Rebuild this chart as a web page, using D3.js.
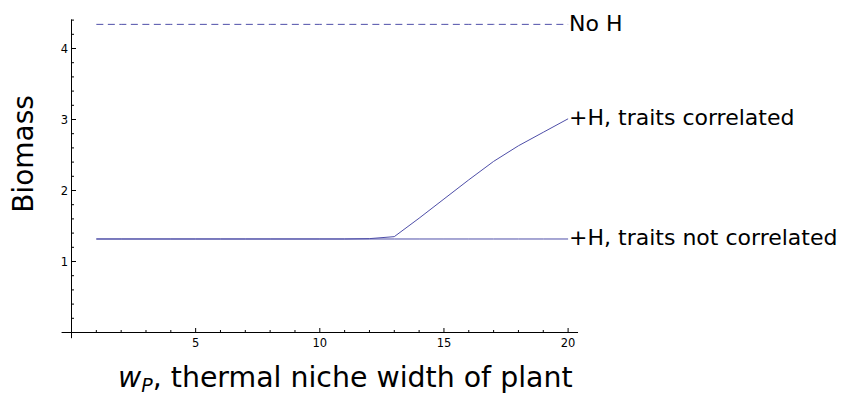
<!DOCTYPE html>
<html>
<head>
<meta charset="utf-8">
<script src="https://cdn.jsdelivr.net/npm/d3@7"></script>
<style>
  body { margin: 0; background: #fff; }
  text { font-family: "DejaVu Sans", sans-serif; fill: #000; }
</style>
</head>
<body>
<div id="chart"></div>
<script>
// data
const widths = d3.range(1, 21);
const noH = widths.map(() => 4.34);
const notCorrelated = widths.map(() => 1.317);
const correlated = [1.317, 1.317, 1.317, 1.317, 1.317, 1.317, 1.317, 1.317, 1.317, 1.317,
                    1.317, 1.322, 1.35, 1.61, 1.88, 2.15, 2.41, 2.63, 2.82, 3.01];
const seriesLabels = ['No H', '+H, traits correlated', '+H, traits not correlated'];
const xTicks = [5, 10, 15, 20];
const yTicks = [1, 2, 3, 4];

const W = 845, H = 398;
const svg = d3.select('#chart').append('svg')
    .attr('width', W)
    .attr('height', H);

const x = d3.scaleLinear().domain([0, 20]).range([71.5, 568.1]);
const y = d3.scaleLinear().domain([0, 4]).range([332.5, 48.5]);
const lineColor = '#4e4ea8';

// axes
const axes = svg.append('g');
axes.append('line')
    .attr('x1', x(-0.4)).attr('x2', x(20.4))
    .attr('y1', y(0)).attr('y2', y(0))
    .attr('stroke', '#000');
axes.append('line')
    .attr('x1', x(0)).attr('x2', x(0))
    .attr('y1', y(4.41)).attr('y2', y(-0.08))
    .attr('stroke', '#000');

// x ticks (inside, upward)
const xMinor = d3.range(1, 21).filter(v => !xTicks.includes(v));
axes.selectAll('.xminor').data(xMinor).enter().append('line')
    .attr('x1', d => x(d)).attr('x2', d => x(d))
    .attr('y1', y(0)).attr('y2', y(0) - 2.5)
    .attr('stroke', '#000');
axes.selectAll('.xmajor').data(xTicks).enter().append('line')
    .attr('x1', d => x(d)).attr('x2', d => x(d))
    .attr('y1', y(0)).attr('y2', y(0) - 4.5)
    .attr('stroke', '#000');
axes.selectAll('.xlab').data(xTicks).enter().append('text')
    .attr('x', d => x(d)).attr('y', y(0) + 14)
    .attr('text-anchor', 'middle')
    .style('font-size', '11.5px')
    .text(d => d);

// y ticks (inside, rightward)
const yMinor = d3.range(1, 23).map(i => i * 0.2).filter(v => Math.abs(v - Math.round(v)) > 0.01);
axes.selectAll('.yminor').data(yMinor).enter().append('line')
    .attr('x1', x(0)).attr('x2', x(0) + 2.5)
    .attr('y1', d => y(d)).attr('y2', d => y(d))
    .attr('stroke', '#000');
axes.selectAll('.ymajor').data(yTicks).enter().append('line')
    .attr('x1', x(0)).attr('x2', x(0) + 4.5)
    .attr('y1', d => y(d)).attr('y2', d => y(d))
    .attr('stroke', '#000');
axes.selectAll('.ylab').data(yTicks).enter().append('text')
    .attr('x', x(0) - 3.5).attr('y', d => y(d) + 4.5)
    .attr('text-anchor', 'end')
    .style('font-size', '11.5px')
    .text(d => d);

// series
const line = d3.line().x((d, i) => x(widths[i])).y(d => y(d));
const series = [noH, correlated, notCorrelated];
svg.selectAll('.series').data(series).enter().append('path')
    .attr('d', d => line(d))
    .attr('fill', 'none')
    .attr('stroke', lineColor)
    .attr('stroke-width', 1)
    .attr('stroke-dasharray', (d, i) => i === 0 ? '7,4.5' : null);

// end labels
svg.selectAll('.endlab').data(series).enter().append('text')
    .attr('x', x(20) + 1)
    .attr('y', d => y(d[d.length - 1]) + 6.5)
    .style('font-size', '22px')
    .text((d, i) => seriesLabels[i]);

// axis titles
svg.append('text')
    .attr('transform', `translate(33,154) rotate(-90)`)
    .attr('text-anchor', 'middle')
    .style('font-size', '28px')
    .text('Biomass');

const xt = svg.append('text')
    .attr('x', 118).attr('y', 387)
    .style('font-size', '28.4px');
xt.append('tspan').style('font-style', 'italic').text('w');
xt.append('tspan').attr('dy', 5).style('font-size', '19px').style('font-style', 'italic').text('P');
xt.append('tspan').attr('dy', -5).text(', thermal niche width of plant');
</script>
</body>
</html>
